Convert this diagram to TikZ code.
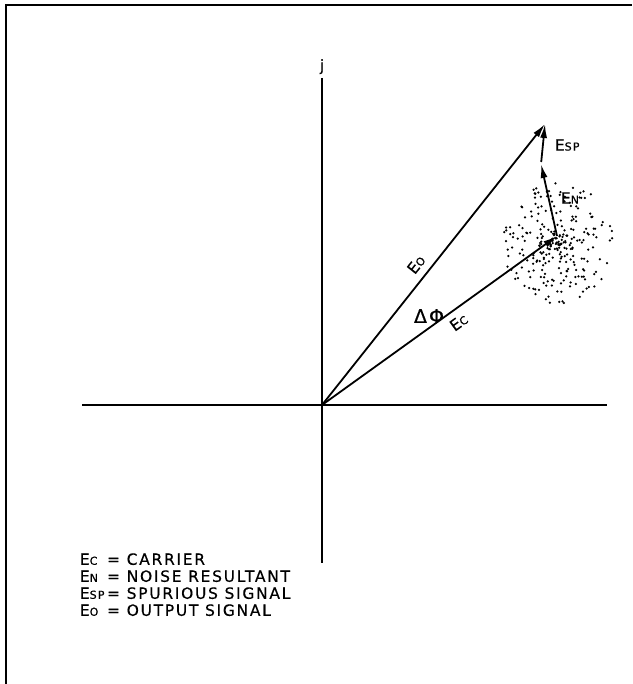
\documentclass[tikz,border=0pt]{standalone}
\usepackage{fontspec}
\setmainfont{DejaVu Sans}[LetterSpace=11,FakeBold=0.5]
\usetikzlibrary{arrows.meta,calc,positioning}

\newcommand{\ename}[1]{E{\fontsize{11}{11}\selectfont #1}}

\begin{document}
\begin{tikzpicture}[x=1pt,y=-1pt,line width=1.8pt,
    vec/.style={-{Latex[length=14pt,width=7pt]}},
    lbl/.style={font=\fontsize{15.5}{15.5}\selectfont,inner sep=1pt}]
  \pgfmathsetseed{42}
  \useasboundingbox (0,0) rectangle (632,684);
  \draw[line width=2pt] (6,684) -- (6,5) -- (632,5);

  % axes
  \coordinate (o) at (322,405);
  \coordinate (vtop) at (322,78);
  \coordinate (vbot) at (322,563);
  \coordinate (hl) at (82,405);
  \coordinate (hr) at (607,405);
  \draw (vtop) -- (vbot);
  \draw (hl) -- (hr);
  \node[lbl,above=2pt of vtop] (jlab) {j};

  % phasor tips
  \coordinate (tc) at (557,236);
  \coordinate (tn) at (541,164);
  \coordinate (to) at (545,124);

  % noise cloud
  \foreach \i in {1,...,260}{
    \pgfmathsetmacro{\r}{rnd^0.75}
    \pgfmathsetmacro{\a}{360*rnd}
    \fill ($(558,243)+({55*\r*cos(\a)},{61*\r*sin(\a)})$) circle (1.25);
  }

  \draw[vec] (o) -- (tc) node[lbl,pos=0.55,sloped,below=5pt] (eclab) {\ename{C}};
  \draw[vec] (o) -- (to) node[lbl,pos=0.47,sloped,above=6pt] (eolab) {\ename{O}};
  \draw[vec] (tc) -- (tn);
  \draw[vec,shorten <=2pt] (tn) -- (to);

  \node[lbl,font=\fontsize{19}{19}\selectfont] (dphi) at (429,316) {ΔΦ};
  \node[lbl,anchor=west] (esplab) at (553,145) {\ename{SP}};
  \node[lbl,anchor=west] (enlab) at (559,198) {\ename{N}};

  % legend
  \node[lbl,anchor=north west,align=left] (legend) at (78,551)
    {\fontsize{15.5}{17}\selectfont
     \begin{tabular}{@{}l@{\,}l@{}}
       \ename{C}  & = CARRIER\\
       \ename{N}  & = NOISE RESULTANT\\
       \ename{SP} & = SPURIOUS SIGNAL\\
       \ename{O}  & = OUTPUT SIGNAL
     \end{tabular}};
\end{tikzpicture}
\end{document}
